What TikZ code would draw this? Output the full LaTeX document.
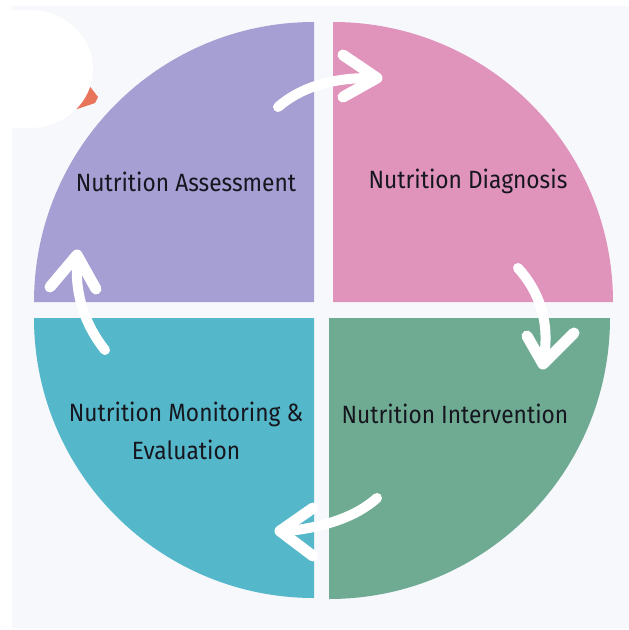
\documentclass[tikz,border=0pt]{standalone}
\usepackage{fontspec}
\setmainfont{Fira Sans}[FakeStretch=0.91]
\usetikzlibrary{positioning}

\definecolor{bgpaper}{HTML}{F7F8FC}
\definecolor{assesscol}{HTML}{A69FD3}
\definecolor{diagcol}{HTML}{E094BC}
\definecolor{intervcol}{HTML}{6FAB93}
\definecolor{monitorcol}{HTML}{55B8CA}
\definecolor{blobcol}{HTML}{E8745A}
\definecolor{inkcol}{HTML}{16161F}

\tikzset{
  phase/.style={text=inkcol, font=\fontsize{25}{38}\selectfont, inner sep=0pt, align=center},
  flow/.style={draw=white, line width=10pt, line cap=round},
  flowhead/.style={draw=white, line width=11pt, line cap=round, line join=round}
}

\begin{document}
\begin{tikzpicture}[x=1pt, y=-1pt]
\useasboundingbox (0,0) rectangle (629,630);
\fill[white] (0,0) rectangle (629,630);
\fill[bgpaper] (12,6) rectangle (629,628);

% corner patch
\fill[blobcol] (88,84) -- (98,97) -- (95,103) -- (77,109) -- (70,100) -- cycle;
\fill[white] (30,69) ellipse[x radius=63, y radius=59];
\fill[white] (0,10) rectangle (30,128);

% quadrants
\fill[assesscol] (314,302) -- (34,302) arc[start angle=180, end angle=270, radius=280] -- cycle;
\fill[diagcol] (333,302) -- (333,22) arc[start angle=270, end angle=360, radius=280] -- cycle;
\fill[intervcol] (329,318) -- (610,318) arc[start angle=0, end angle=90, radius=281] -- cycle;
\fill[monitorcol] (314,318) -- (314,598) arc[start angle=90, end angle=180, radius=280] -- cycle;

\node[phase] (assess) at (186,182) {Nutrition Assessment};
\node[phase] (diag) at (468,181) {Nutrition Diagnosis};
\node[phase] (interv) at (455,414) {Nutrition Intervention};
\node[phase] (monitor) at (186,431) {Nutrition Monitoring \&\\Evaluation};

% arrows
\coordinate (t1) at (278,107); \coordinate (h1) at (377,78);
\coordinate (t2) at (518,268); \coordinate (h2) at (543,364);
\coordinate (t3) at (377,498); \coordinate (h3) at (280,531);
\coordinate (t4) at (105,350); \coordinate (h4) at (77,255);

\draw[flow] (t1) .. controls (300,88) and (330,78) .. (370,78);
\draw[flowhead] (343,55) -- (h1) -- (343,97);
\draw[flow] (t2) .. controls (538,290) and (550,320) .. (544,357);
\draw[flowhead] (527,336) -- (h2) -- (574,333);
\draw[flow] (t3) .. controls (355,518) and (320,528) .. (287,531);
\draw[flowhead] (313,508) -- (h3) -- (313,556);
\draw[flow] (t4) .. controls (85,325) and (75,295) .. (77,262);
\draw[flowhead] (50,287) -- (h4) -- (96,289);
\end{tikzpicture}
\end{document}
